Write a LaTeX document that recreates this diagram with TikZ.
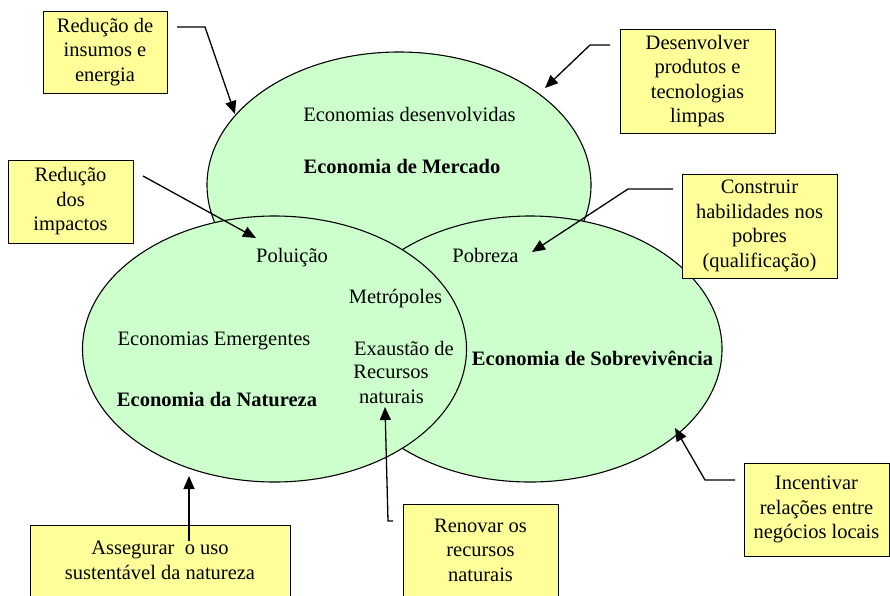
\documentclass[tikz,border=0pt]{standalone}
\usepackage{fontspec}
\setmainfont{Liberation Serif}
\usetikzlibrary{shapes.geometric,arrows.meta,shadows}
\definecolor{leaf}{HTML}{CCFFCC}
\definecolor{note}{HTML}{FFFF99}
\begin{document}
\begin{tikzpicture}[x=1pt,y=-1pt,
  zone/.style={ellipse, draw, fill=leaf, line width=1.1pt,
    minimum width=384pt, minimum height=266pt, inner sep=0pt},
  lbl/.style={anchor=base, inner sep=0pt, font=\fontsize{20.5}{24.5}\selectfont},
  key/.style={anchor=base, inner sep=0pt, font=\fontsize{20.5}{24.5}\selectfont\bfseries},
  notebox/.style={draw, fill=note, line width=0.9pt, align=center, inner sep=0pt,
    font=\fontsize{20.5}{24.5}\selectfont,
    general shadow={fill=black!65, shadow xshift=1pt, shadow yshift=-1pt}},
  pointer/.style={line width=1.3pt, -{Triangle[length=13pt,width=11pt]}}]
\useasboundingbox (0,0) rectangle (890,595);
\begin{scope}
\clip (0,0) rectangle (890,595);

% the three economies
\node[zone] (mercado) at (399,185) {};
\node[zone] (sobrev) at (530,349) {};
\node[zone] (natureza) at (274.5,349) {};

% labels inside the economies
\node[lbl] (desenv) at (409.5,121.5) {Economias desenvolvidas};
\node[key] (tmercado) at (402,173) {Economia de Mercado};
\node[lbl] (poluicao) at (292,262) {Poluição};
\node[lbl] (pobreza) at (485.5,262) {Pobreza};
\node[lbl] (metropoles) at (395.5,303) {Metrópoles};
\node[lbl] (emergentes) at (214,345) {Economias Emergentes};
\node[key] (tnatureza) at (217,406) {Economia da Natureza};
\node[lbl] (exaustao1) at (404,355) {Exaustão de};
\node[lbl] (exaustao2) at (391,378) {Recursos};
\node[lbl] (exaustao3) at (391.5,403) {naturais};
\node[key] (tsobrev) at (592.5,365) {Economia de Sobrevivência};

% action boxes
\node[notebox, minimum width=124pt, minimum height=82pt] (insumos) at (105,52)
  {Redução de\\insumos e\\energia};
\node[notebox, minimum width=155pt, minimum height=104pt] (limpas) at (697.5,81)
  {Desenvolver\\produtos e\\tecnologias\\limpas};
\node[notebox, minimum width=125pt, minimum height=83pt] (impactos) at (70.5,201.5)
  {Redução\\dos\\impactos};
\node[notebox, minimum width=155pt, minimum height=104pt] (habilidades) at (759.5,226)
  {Construir\\habilidades nos\\pobres\\(qualificação)};
\node[notebox, minimum width=260pt, minimum height=71pt] (assegurar) at (160,560.5)
  {Assegurar~ o uso\\sustentável da natureza};
\node[notebox, minimum width=155pt, minimum height=92pt] (renovar) at (480.5,550)
  {Renovar os\\recursos\\naturais};
\node[notebox, minimum width=145pt, minimum height=93pt] (incentivar) at (816.5,509.5)
  {Incentivar\\relações entre\\negócios locais};

% pointer paths
\coordinate (p1a) at (177,27);  \coordinate (p1b) at (205,27);  \coordinate (p1c) at (235,114);
\coordinate (p2a) at (610,45);  \coordinate (p2b) at (590,45);  \coordinate (p2c) at (545,88);
\coordinate (p3a) at (143,176); \coordinate (p3c) at (256,238);
\coordinate (p4a) at (673,189); \coordinate (p4b) at (628,189); \coordinate (p4c) at (532,252);
\coordinate (p5a) at (189,541); \coordinate (p5c) at (189,476);
\coordinate (p6a) at (393,521); \coordinate (p6b) at (388,521); \coordinate (p6c) at (385,407);
\coordinate (p7a) at (735,480); \coordinate (p7b) at (705,480); \coordinate (p7c) at (675,428);

\draw[pointer] (p1a) -- (p1b) -- (p1c);
\draw[pointer] (p2a) -- (p2b) -- (p2c);
\draw[pointer] (p3a) -- (p3c);
\draw[pointer] (p4a) -- (p4b) -- (p4c);
\draw[pointer] (p5a) -- (p5c);
\draw[pointer] (p6a) -- (p6b) -- (p6c);
\draw[pointer] (p7a) -- (p7b) -- (p7c);
\end{scope}
\end{tikzpicture}
\end{document}
